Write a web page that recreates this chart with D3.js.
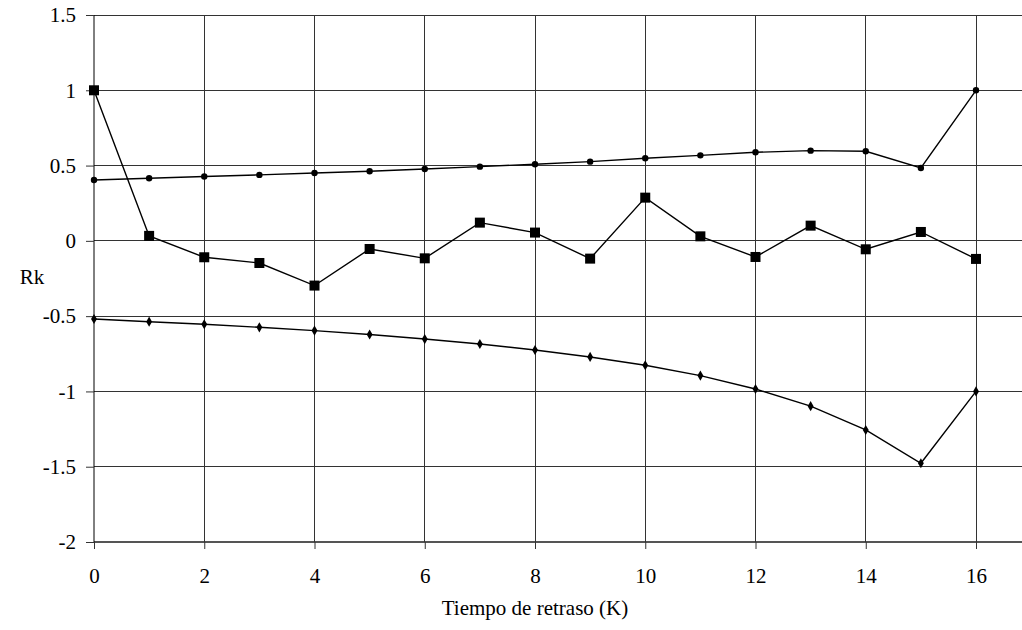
<!DOCTYPE html>
<html><head><meta charset="utf-8">
<script src="https://cdn.jsdelivr.net/npm/d3@7"></script>
<style>body{margin:0;background:#fff}svg{display:block}svg text{font-family:"Liberation Serif","Times New Roman","DejaVu Serif",serif !important}</style>
</head><body><svg id="c" width="1022" height="630"></svg>
<script>
const lags = [0,1,2,3,4,5,6,7,8,9,10,11,12,13,14,15,16];
const upperBand = [0.404,0.416,0.427,0.438,0.451,0.462,0.477,0.493,0.509,0.526,0.549,0.568,0.588,0.599,0.595,0.484,1.0];
const rk = [1.0,0.033,-0.109,-0.147,-0.297,-0.054,-0.116,0.121,0.055,-0.118,0.287,0.030,-0.107,0.101,-0.056,0.059,-0.120];
const lowerBand = [-0.519,-0.537,-0.554,-0.574,-0.596,-0.622,-0.652,-0.685,-0.725,-0.771,-0.826,-0.895,-0.984,-1.098,-1.256,-1.477,-1.0];
const xTicks = [0,2,4,6,8,10,12,14,16];
const yTicks = [1.5,1,0.5,0,-0.5,-1,-1.5,-2];

const svg = d3.select("#c");
const x = d3.scaleLinear().domain([0,16]).range([94,976]);
const y = d3.scaleLinear().domain([-2,1.5]).range([542,15]);
const right = 1022;
const FS = 21;

// grid
svg.append("g").selectAll("line").data(yTicks).join("line")
  .attr("x1",94).attr("x2",right).attr("y1",d=>y(d)).attr("y2",d=>y(d))
  .attr("stroke",d=>d===-2?"#555":"#333").attr("stroke-width",d=>d===-2?1.6:1).attr("shape-rendering","crispEdges");
svg.append("g").selectAll("line").data(xTicks.filter(d=>d>0)).join("line")
  .attr("x1",d=>x(d)).attr("x2",d=>x(d)).attr("y1",15).attr("y2",542)
  .attr("stroke","#333").attr("stroke-width",1).attr("shape-rendering","crispEdges");

// axes
const yAxis = d3.axisLeft(y).tickValues(yTicks).tickSize(8).tickPadding(10).tickFormat(d=>String(d));
const gy = svg.append("g").attr("transform","translate(94,0)").call(yAxis);
gy.select(".domain").attr("stroke","#000").attr("d","M0,15V542");
const xAxis = d3.axisBottom(x).tickValues(xTicks).tickSize(7).tickPadding(19).tickFormat(d=>String(d));
const gx = svg.append("g").attr("transform","translate(0,542)").call(xAxis);
gx.select(".domain").remove();
[gy,gx].forEach(g=>{g.attr("font-size",FS).attr("font-family","Liberation Serif");
  g.selectAll("text").attr("fill","#000");
  g.selectAll(".tick line").attr("stroke","#333");});

svg.append("text").attr("x",535).attr("y",615).attr("text-anchor","middle").attr("font-size",FS).text("Tiempo de retraso (K)");
svg.append("text").attr("x",32).attr("y",284).attr("text-anchor","middle").attr("font-size",FS).text("Rk");

const line = d3.line().x((d,i)=>x(lags[i])).y(d=>y(d));
[upperBand,lowerBand,rk].forEach(s=>{
  svg.append("path").attr("d",line(s)).attr("fill","none").attr("stroke","#000").attr("stroke-width",1.4);
});
svg.append("g").selectAll("circle").data(upperBand).join("circle")
  .attr("cx",(d,i)=>x(lags[i])).attr("cy",d=>y(d)).attr("r",3.2).attr("fill","#000");
svg.append("g").selectAll("path").data(lowerBand).join("path")
  .attr("d",d3.symbol(d3.symbolDiamond,30)).attr("transform",(d,i)=>`translate(${x(lags[i])},${y(d)})`).attr("fill","#000");
svg.append("g").selectAll("rect").data(rk).join("rect")
  .attr("x",(d,i)=>x(lags[i])-5).attr("y",d=>y(d)-5).attr("width",10).attr("height",10).attr("fill","#000");
</script></body></html>
